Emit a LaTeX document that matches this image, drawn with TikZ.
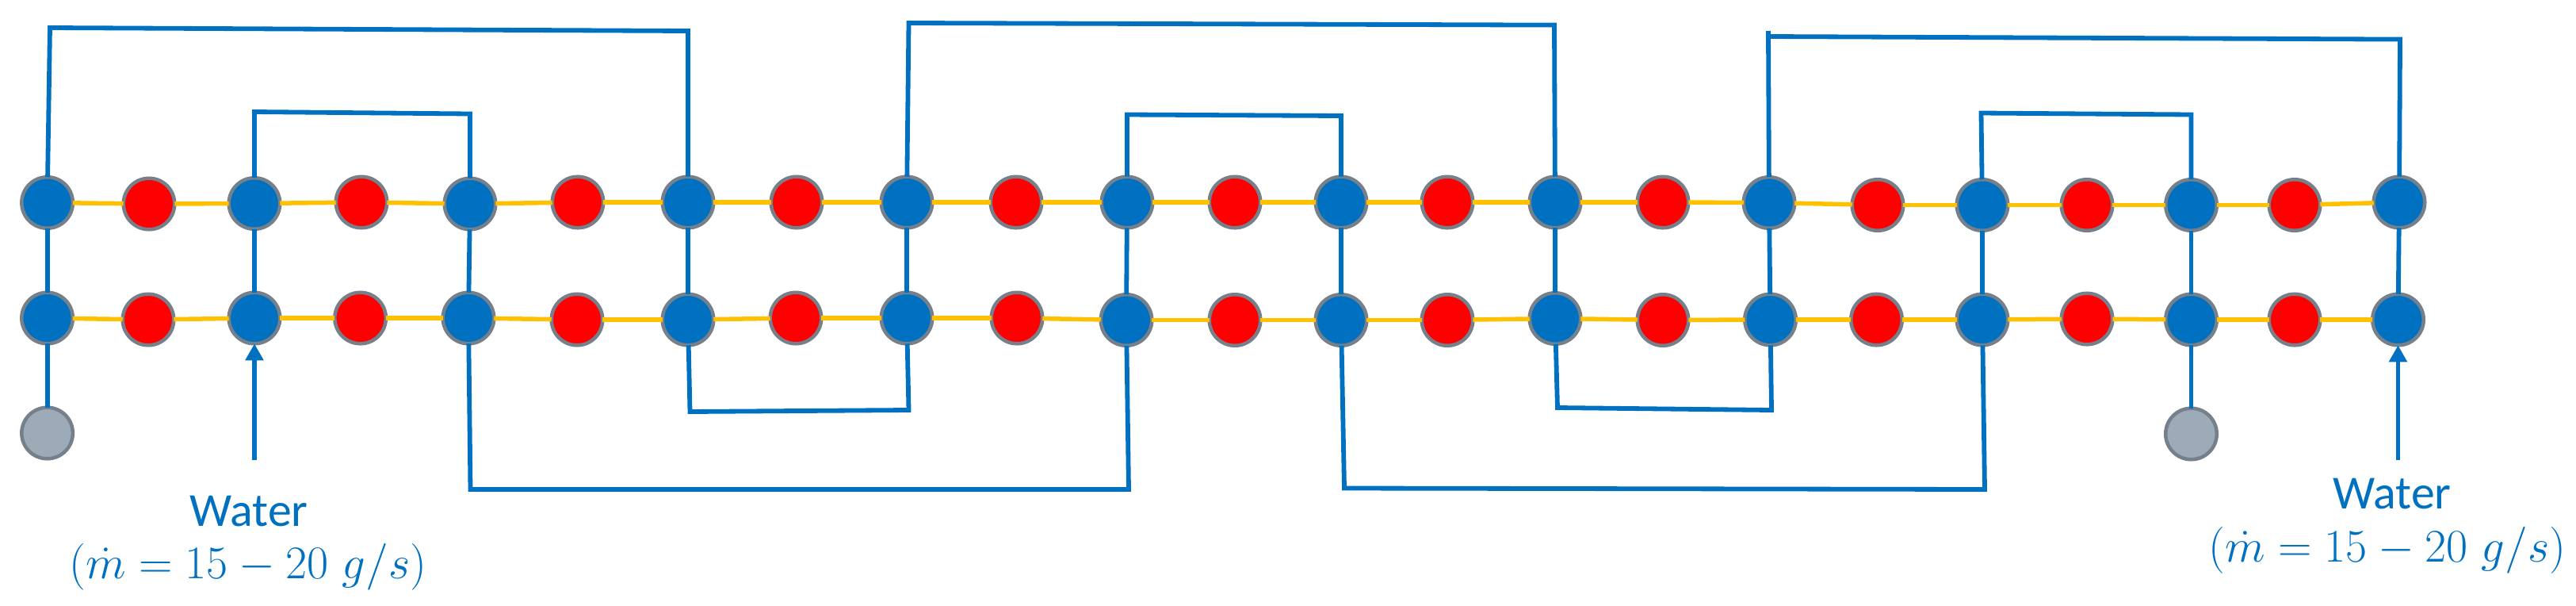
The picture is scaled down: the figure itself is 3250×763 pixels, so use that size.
\documentclass[tikz,border=0pt]{standalone}
\usepackage[no-math]{fontspec}
\newfontfamily\labelfont{Carlito}
\usetikzlibrary{arrows.meta}
\definecolor{pipeblue}{HTML}{0070C0}
\definecolor{wireorange}{HTML}{FFC000}
\definecolor{rimgrey}{HTML}{76808A}
\definecolor{capgrey}{HTML}{9DABB8}
\tikzset{
  disc/.style={circle,draw=rimgrey,line width=0.045cm,minimum size=0.645cm,inner sep=0pt,outer sep=0pt},
  cooldisc/.style={disc,fill=pipeblue},
  hotdisc/.style={disc,fill=red},
  capdisc/.style={disc,fill=capgrey},
  wire/.style={draw=wireorange,line width=0.055cm},
  pipe/.style={draw=pipeblue,line width=0.058cm,line join=miter},
  feed/.style={pipe,-{Triangle[length=0.21cm,width=0.22cm]}},
  waterlabel/.style={anchor=base,inner sep=0pt,text=pipeblue,font=\labelfont\fontsize{17}{20}\selectfont},
  ratelabel/.style={anchor=base,inner sep=0pt,text=pipeblue,scale=0.97,font=\fontsize{17.28}{20}\selectfont}
}
\begin{document}
\begin{tikzpicture}[x=0.01cm,y=-0.01cm]
\useasboundingbox (0,0) rectangle (3250,763);
% top row
\foreach \i/\x/\y in {1/59.6/255.5,3/321/256.5,5/593/257,7/868/255,9/1144/255,11/1422/255,13/1692/255,15/1962/255,17/2232/255.5,19/2501/258.5,21/2764.5/258.5,23/3027/255}
  \node[cooldisc] (t\i) at (\x,\y) {};
\foreach \i/\x/\y in {2/188/257,4/456/255,6/729/255,8/1005/255,10/1282/255,12/1558/255,14/1826/255,16/2098/255,18/2369/258.5,20/2633/258.5,22/2895/258.5}
  \node[hotdisc] (t\i) at (\x,\y) {};
% bottom row
\foreach \i/\x/\y in {1/59.6/401,3/321/401,5/591/401,7/868/403,9/1144/401,11/1421/403.5,13/1692/403.5,15/1962/401.5,17/2233.5/403,19/2501/403,21/2764.5/403,23/3025.5/403}
  \node[cooldisc] (b\i) at (\x,\y) {};
\foreach \i/\x/\y in {2/187/403,4/454.6/401,6/728/403,8/1004/401,10/1283/401,12/1558/403.5,14/1826/403.5,16/2098/403.5,18/2367.5/403,20/2633/402,22/2895/403}
  \node[hotdisc] (b\i) at (\x,\y) {};
% end caps
\node[capdisc] (c1) at (59.6,546) {};
\node[capdisc] (c2) at (2764.5,547) {};
% orange links
\foreach \i [remember=\i as \p (initially 1)] in {2,...,23}{
  \draw[wire] (t\p) -- (t\i);
  \draw[wire] (b\p) -- (b\i);
}
% vertical links
\foreach \i in {1,3,...,23}
  \draw[pipe] (t\i) -- (b\i);
\draw[pipe] (b1) -- (c1);
\draw[pipe] (b21) -- (c2);
% upper loops
\coordinate (u1a) at (63,35);      \coordinate (u1b) at (868,39);
\coordinate (u2a) at (321,141);    \coordinate (u2b) at (593,143.5);
\coordinate (u3a) at (1146.5,29);  \coordinate (u3b) at (1961,31.6);
\coordinate (u4a) at (1422,144.5); \coordinate (u4b) at (1692,146);
\coordinate (u5a) at (2231,46);    \coordinate (u5b) at (3028,49.6);
\coordinate (u5c) at (2231,39);
\coordinate (u6a) at (2499.5,142.5); \coordinate (u6b) at (2764.5,144.5);
\draw[pipe] (t1) -- (u1a) -- (u1b) -- (t7);
\draw[pipe] (t3) -- (u2a) -- (u2b) -- (t5);
\draw[pipe] (t9) -- (u3a) -- (u3b) -- (t15);
\draw[pipe] (t11) -- (u4a) -- (u4b) -- (t13);
\draw[pipe] (t17) -- (u5c);
\draw[pipe] (u5a) -- (u5b) -- (t23);
\draw[pipe] (t19) -- (u6a) -- (u6b) -- (t21);
% lower loops
\coordinate (l1a) at (870.5,519);  \coordinate (l1b) at (1146.5,517);
\coordinate (l2a) at (593.5,617);  \coordinate (l2b) at (1424,617);
\coordinate (l3a) at (1696,615.5); \coordinate (l3b) at (2504,617);
\coordinate (l4a) at (1965,514);   \coordinate (l4b) at (2235,517);
\draw[pipe] (b7) -- (l1a) -- (l1b) -- (b9);
\draw[pipe] (b5) -- (l2a) -- (l2b) -- (b11);
\draw[pipe] (b13) -- (l3a) -- (l3b) -- (b19);
\draw[pipe] (b15) -- (l4a) -- (l4b) -- (b17);
% water feeds
\coordinate (f1) at (321,580);
\coordinate (f2) at (3025.5,580);
\draw[feed] (f1) -- (b3);
\draw[feed] (f2) -- (b23);
% labels
\node[waterlabel] (w1) at (314,663) {Water};
\node[ratelabel] (r1) at (313,729) {$(\dot{m}=15-20\ g/s)$};
\node[waterlabel] (w2) at (3018,641) {Water};
\node[ratelabel] (r2) at (3012,708) {$(\dot{m}=15-20\ g/s)$};
\end{tikzpicture}
\end{document}
